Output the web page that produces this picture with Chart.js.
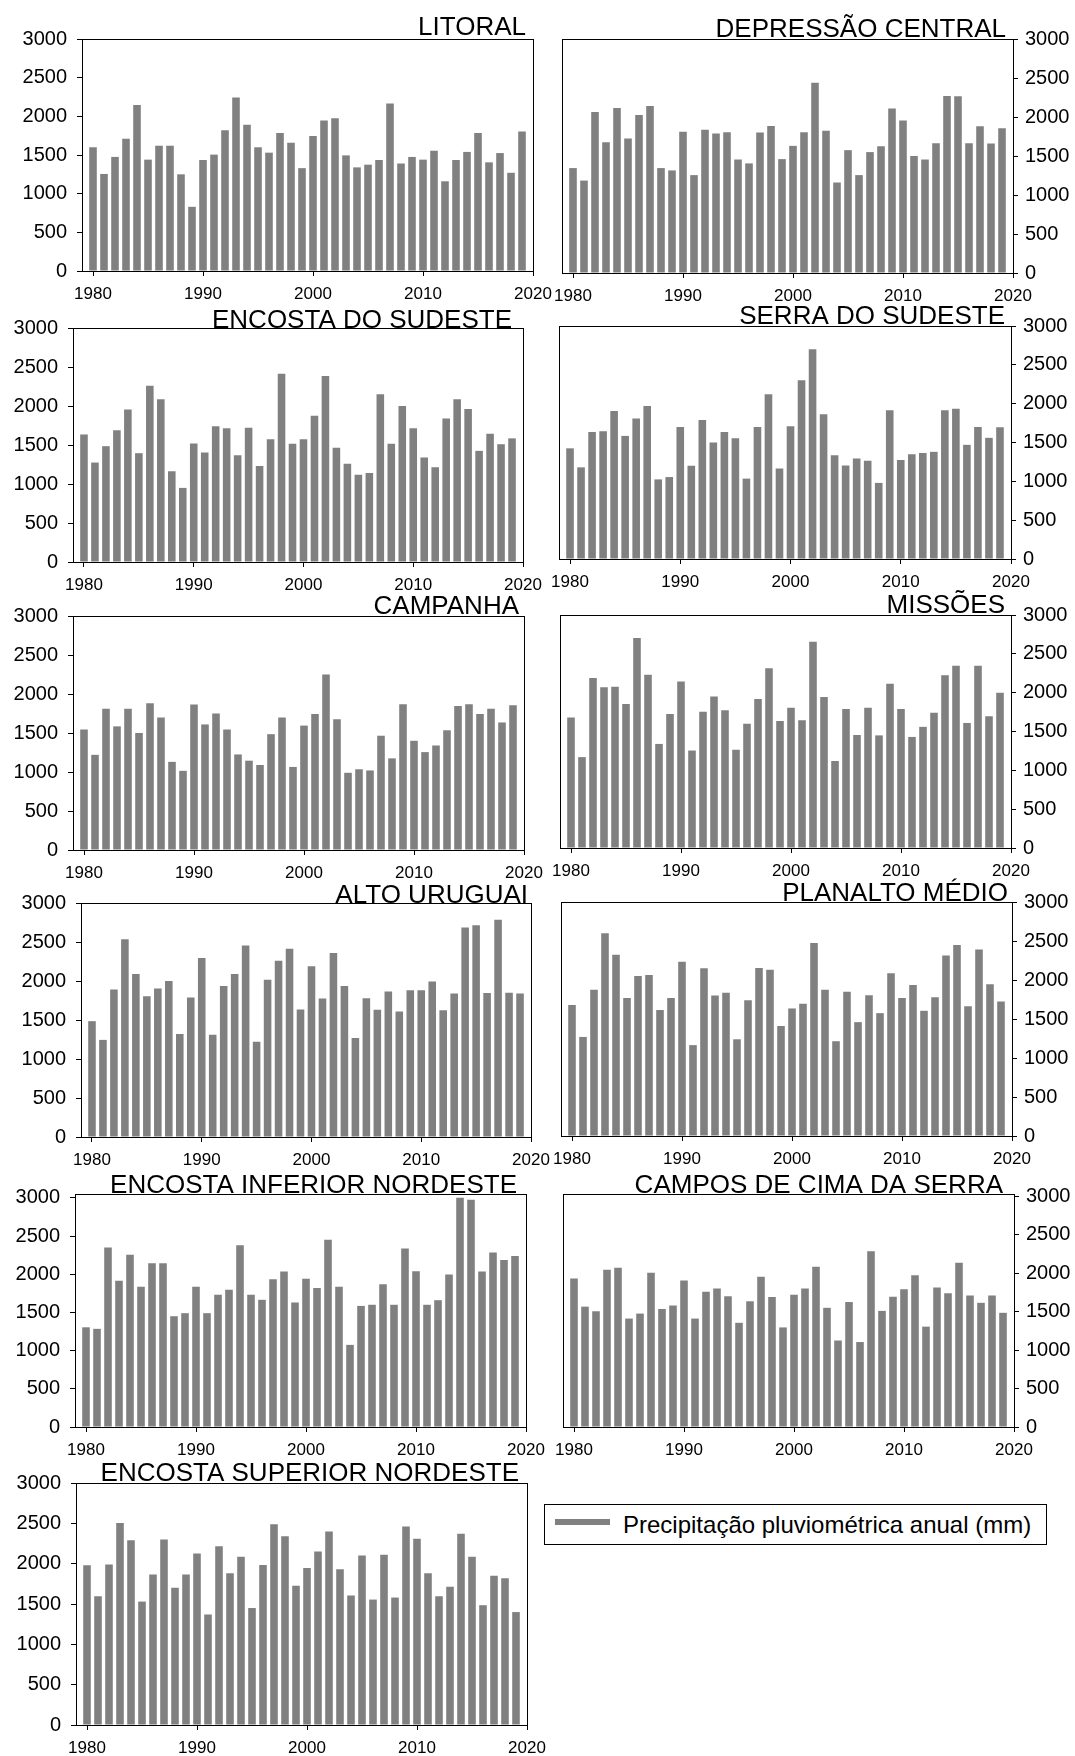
<!DOCTYPE html>
<html lang="pt">
<head>
<meta charset="utf-8">
<title>Precipitação pluviométrica anual</title>
<script src="https://cdn.jsdelivr.net/npm/chart.js@4.4.1/dist/chart.umd.min.js"></script>
<style>
  html, body { margin: 0; padding: 0; background: #fff; overflow: hidden; }
  body { width: 1075px; height: 1756px; position: relative; font-family: "Liberation Sans", Arial, sans-serif; }
  canvas { position: absolute; }
  #legend { position: absolute; left: 544px; top: 1504px; width: 501px; height: 39px; border: 1px solid #000; }
  #legend .swatch { position: absolute; left: 10px; top: 14px; width: 55px; height: 6px; background: #808080; }
  #legend .label { position: absolute; left: 78px; top: 0; line-height: 39px; font-size: 24px; color: #000; white-space: nowrap; }
</style>
</head>
<body>
<div id="legend"><span class="swatch"></span><span class="label">Precipitação pluviométrica anual (mm)</span></div>
<script>
const years = [1980, 1981, 1982, 1983, 1984, 1985, 1986, 1987, 1988, 1989,
               1990, 1991, 1992, 1993, 1994, 1995, 1996, 1997, 1998, 1999,
               2000, 2001, 2002, 2003, 2004, 2005, 2006, 2007, 2008, 2009,
               2010, 2011, 2012, 2013, 2014, 2015, 2016, 2017, 2018, 2019];
const yTickValues = [0, 500, 1000, 1500, 2000, 2500, 3000];
const xTickValues = [1980, 1990, 2000, 2010, 2020];

// annual rainfall (mm)
const litoral = [1600, 1255, 1475, 1710, 2145, 1440, 1620, 1620, 1250, 830, 1435, 1505, 1820, 2245, 1890, 1600, 1530, 1785, 1660, 1330, 1745, 1945, 1975, 1495, 1340, 1375, 1435, 2165, 1390, 1475, 1440, 1555, 1160, 1435, 1540, 1785, 1405, 1525, 1270, 1805];
const depressaoCentral = [1345, 1185, 2065, 1675, 2115, 1725, 2025, 2140, 1345, 1315, 1810, 1255, 1835, 1790, 1805, 1455, 1405, 1800, 1885, 1460, 1630, 1805, 2440, 1825, 1160, 1575, 1255, 1550, 1625, 2110, 1955, 1500, 1455, 1665, 2270, 2265, 1665, 1880, 1660, 1855];
const encostaSudeste = [1635, 1275, 1485, 1690, 1955, 1395, 2260, 2085, 1165, 950, 1520, 1405, 1740, 1715, 1370, 1720, 1230, 1575, 2415, 1515, 1575, 1875, 2385, 1465, 1260, 1120, 1140, 2150, 1515, 2000, 1715, 1340, 1215, 1840, 2085, 1960, 1425, 1645, 1510, 1585];
const serraSudeste = [1425, 1180, 1635, 1645, 1905, 1585, 1810, 1970, 1025, 1055, 1700, 1200, 1790, 1500, 1635, 1555, 1035, 1700, 2120, 1165, 1710, 2300, 2700, 1865, 1335, 1205, 1295, 1265, 980, 1915, 1275, 1350, 1365, 1380, 1915, 1935, 1470, 1700, 1560, 1695];
const campanha = [1545, 1220, 1810, 1585, 1810, 1500, 1880, 1700, 1130, 1015, 1865, 1610, 1750, 1545, 1225, 1145, 1090, 1485, 1700, 1065, 1595, 1745, 2250, 1675, 990, 1035, 1020, 1465, 1175, 1870, 1400, 1255, 1340, 1535, 1845, 1870, 1745, 1810, 1635, 1855];
const missoes = [1680, 1170, 2190, 2070, 2075, 1855, 2705, 2230, 1340, 1725, 2145, 1255, 1755, 1950, 1775, 1265, 1600, 1920, 2315, 1635, 1805, 1645, 2655, 1945, 1120, 1790, 1455, 1805, 1450, 2115, 1790, 1430, 1560, 1740, 2225, 2345, 1610, 2345, 1695, 2000];
const altoUruguai = [1485, 1245, 1890, 2535, 2090, 1805, 1905, 2000, 1320, 1790, 2295, 1310, 1935, 2090, 2455, 1220, 2015, 2260, 2415, 1635, 2190, 1775, 2360, 1935, 1270, 1780, 1630, 1865, 1610, 1880, 1880, 1995, 1625, 1840, 2685, 2715, 1845, 2785, 1850, 1840];
const planaltoMedio = [1680, 1270, 1875, 2600, 2325, 1770, 2050, 2065, 1615, 1770, 2235, 1165, 2150, 1800, 1835, 1240, 1740, 2155, 2130, 1410, 1635, 1695, 2475, 1875, 1215, 1850, 1460, 1805, 1575, 2085, 1770, 1935, 1605, 1780, 2315, 2450, 1665, 2390, 1945, 1725];
const encostaInferiorNordeste = [1305, 1285, 2350, 1915, 2255, 1835, 2145, 2145, 1450, 1490, 1835, 1490, 1730, 1795, 2380, 1730, 1665, 1935, 2035, 1630, 1940, 1820, 2450, 1835, 1075, 1585, 1600, 1870, 1600, 2335, 2040, 1600, 1660, 1995, 3000, 2975, 2035, 2285, 2185, 2240];
const camposCimaSerra = [1930, 1565, 1505, 2045, 2070, 1410, 1475, 2005, 1535, 1580, 1905, 1410, 1760, 1800, 1700, 1355, 1635, 1955, 1690, 1295, 1720, 1800, 2085, 1550, 1125, 1625, 1105, 2285, 1510, 1695, 1790, 1975, 1305, 1815, 1740, 2135, 1710, 1615, 1710, 1485];
const encostaSuperiorNordeste = [1980, 1595, 1990, 2505, 2290, 1530, 1865, 2300, 1700, 1865, 2125, 1370, 2215, 1880, 2085, 1450, 1985, 2490, 2340, 1725, 1945, 2150, 2400, 1930, 1605, 2100, 1555, 2110, 1580, 2460, 2310, 1880, 1595, 1715, 2370, 2085, 1485, 1850, 1820, 1400];

const BAR_GRAY = '#808080';
const FONT = '"Liberation Sans", Arial, sans-serif';
const AXIS_W = 70, TOP_SPACE = 45, BOTTOM_SPACE = 40, FREE_SIDE = 40;

// plot box on the page: [left, top, right, bottom]; title anchored at its right end / baseline
const panels = [
  { title: 'LITORAL', values: litoral, side: 'left', box: [82, 39, 533, 271], titleEnd: 526, titleBase: 35 },
  { title: 'DEPRESSÃO CENTRAL', values: depressaoCentral, side: 'right', box: [562, 39, 1013, 273], titleEnd: 1006, titleBase: 37 },
  { title: 'ENCOSTA DO SUDESTE', values: encostaSudeste, side: 'left', box: [73, 328, 523, 562], titleEnd: 512, titleBase: 328 },
  { title: 'SERRA DO SUDESTE', values: serraSudeste, side: 'right', box: [559, 326, 1011, 559], titleEnd: 1005, titleBase: 324 },
  { title: 'CAMPANHA', values: campanha, side: 'left', box: [73, 616, 524, 850], titleEnd: 519, titleBase: 614 },
  { title: 'MISSÕES', values: missoes, side: 'right', box: [560, 615, 1011, 848], titleEnd: 1005, titleBase: 613 },
  { title: 'ALTO URUGUAI', values: altoUruguai, side: 'left', box: [81, 903, 531, 1137], titleEnd: 528, titleBase: 903 },
  { title: 'PLANALTO MÉDIO', values: planaltoMedio, side: 'right', box: [561, 902, 1012, 1136], titleEnd: 1008, titleBase: 901 },
  { title: 'ENCOSTA INFERIOR NORDESTE', values: encostaInferiorNordeste, side: 'left', box: [75, 1194, 526, 1427], titleEnd: 517, titleBase: 1193, yMax: 3050 },
  { title: 'CAMPOS DE CIMA DA SERRA', values: camposCimaSerra, side: 'right', box: [563, 1194, 1014, 1427], titleEnd: 1003, titleBase: 1193, yMax: 3030 },
  { title: 'ENCOSTA SUPERIOR NORDESTE', values: encostaSuperiorNordeste, side: 'left', box: [76, 1483, 527, 1725], titleEnd: 519, titleBase: 1481 }
];

// box around the plot area + region name on top
const frameAndTitle = {
  id: 'frameAndTitle',
  afterDatasetsDraw(chart, args, opts) {
    const { ctx, chartArea: a } = chart;
    ctx.save();
    ctx.strokeStyle = '#000';
    ctx.lineWidth = 1;
    ctx.strokeRect(Math.round(a.left) + 0.5, Math.round(a.top) + 0.5,
                   Math.round(a.right - a.left), Math.round(a.bottom - a.top));
    ctx.fillStyle = '#000';
    ctx.font = '26px ' + FONT;
    ctx.textAlign = 'right';
    ctx.textBaseline = 'alphabetic';
    ctx.fillText(opts.text, opts.x, opts.y);
    ctx.restore();
  }
};

panels.forEach((p) => {
  const [l, t, r, b] = p.box;
  const onLeft = p.side === 'left';
  const cx = onLeft ? l - AXIS_W : l - FREE_SIDE;
  const cy = t - TOP_SPACE;
  const canvas = document.createElement('canvas');
  canvas.width = (r - l) + AXIS_W + FREE_SIDE;
  canvas.height = (b - t) + TOP_SPACE + BOTTOM_SPACE;
  canvas.style.left = cx + 'px';
  canvas.style.top = cy + 'px';
  document.body.appendChild(canvas);

  new Chart(canvas, {
    type: 'bar',
    data: {
      datasets: [{
        label: 'Precipitação pluviométrica anual (mm)',
        data: years.map((yr, k) => ({ x: yr, y: p.values[k] })),
        backgroundColor: BAR_GRAY,
        borderWidth: 0,
        barPercentage: 0.69,
        categoryPercentage: 1
      }]
    },
    plugins: [frameAndTitle],
    options: {
      responsive: false,
      animation: false,
      devicePixelRatio: 1,
      layout: {
        padding: onLeft ? { left: 0, right: FREE_SIDE, top: TOP_SPACE, bottom: 0 }
                        : { left: FREE_SIDE, right: 0, top: TOP_SPACE, bottom: 0 }
      },
      scales: {
        x: {
          type: 'linear',
          min: 1979,
          max: 2020,
          offset: false,
          afterBuildTicks: (s) => { s.ticks = xTickValues.map(v => ({ value: v })); },
          afterFit: (s) => { s.height = BOTTOM_SPACE; },
          ticks: {
            color: '#000',
            font: { size: 17, family: FONT },
            padding: 8,
            maxRotation: 0,
            autoSkip: false,
            callback: (v) => String(v)
          },
          grid: { offset: false, drawOnChartArea: false, tickLength: 5, color: '#000' },
          border: { display: false }
        },
        y: {
          position: p.side,
          min: 0,
          max: p.yMax || 3000,
          afterBuildTicks: (s) => { s.ticks = yTickValues.map(v => ({ value: v })); },
          afterFit: (s) => { s.width = AXIS_W; },
          ticks: {
            color: '#000',
            font: { size: 20, family: FONT },
            padding: onLeft ? 10 : 7,
            callback: (v) => String(v)
          },
          grid: { drawOnChartArea: false, tickLength: 5, color: '#000' },
          border: { display: false }
        }
      },
      plugins: {
        legend: { display: false },
        tooltip: { enabled: false },
        frameAndTitle: { text: p.title, x: p.titleEnd - cx, y: p.titleBase - cy }
      }
    }
  });
});
</script>
</body>
</html>
